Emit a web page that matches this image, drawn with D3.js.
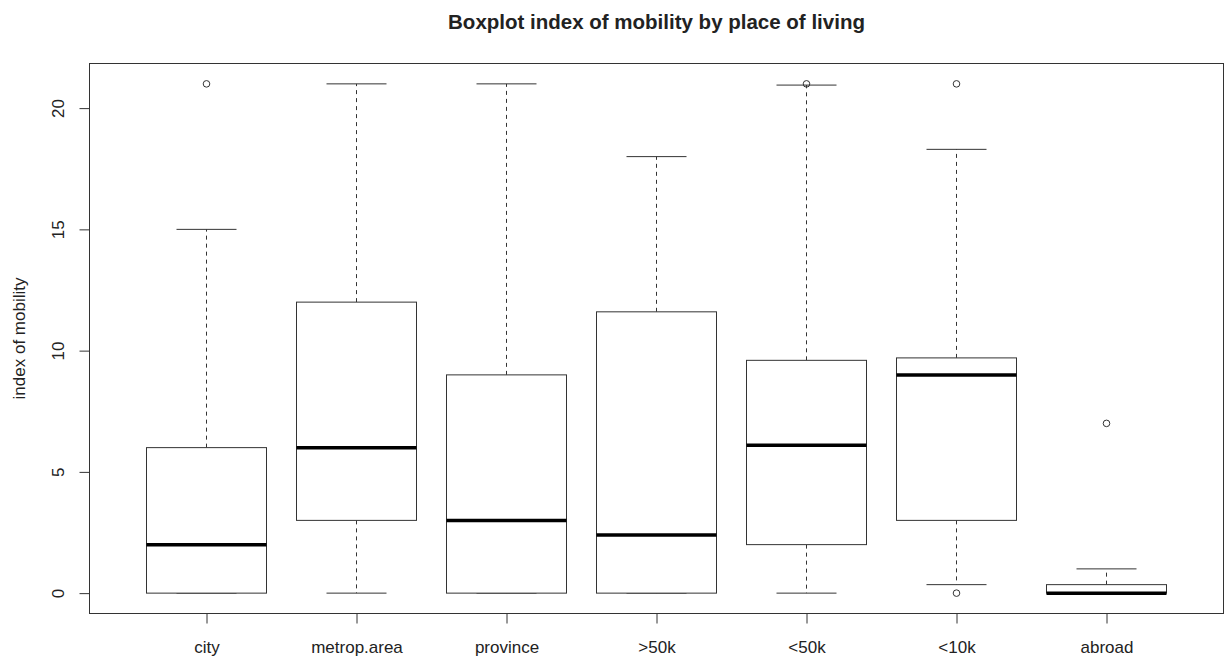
<!DOCTYPE html>
<html>
<head>
<meta charset="utf-8">
<script src="https://cdn.jsdelivr.net/npm/d3@7"></script>
<style>
  html, body { margin: 0; padding: 0; background: #fff; }
  svg { display: block; }
  text { font-family: "Liberation Sans", Arial, sans-serif; fill: #222; }
</style>
</head>
<body>
<svg id="chart" width="1230" height="657"></svg>
<script>
// Boxplot statistics for each place of living
const categories = ["city", "metrop.area", "province", ">50k", "<50k", "<10k", "abroad"];
const lowerWhisker = [0, 0, 0, 0, 0, 0.35, 0];
const q1 = [0, 3, 0, 0, 2, 3, 0];
const median = [2, 6, 3, 2.4, 6.1, 9, 0];
const q3 = [6, 12, 9, 11.6, 9.6, 9.7, 0.35];
const upperWhisker = [15, 21, 21, 18, 20.95, 18.3, 1];
const outliers = [[21], [], [], [], [21], [21, 0], [7]];
const yTicks = [0, 5, 10, 15, 20];

const titleText = "Boxplot index of mobility by place of living";
const yLabel = "index of mobility";

const svg = d3.select("#chart");
const plotLeft = 89.5, plotRight = 1223.5, plotTop = 63.5, plotBottom = 613.5;

const n = categories.length;
const x = d3.scaleLinear().domain([0.22, n + 0.78]).range([plotLeft, plotRight]);
const y = d3.scaleLinear().domain([-0.84, 21.84]).range([plotBottom, plotTop]);
const step = x(2) - x(1);
const boxW = step * 0.8;
const capW = boxW / 2;

const stroke = "#333";

const boxes = categories.map((c, i) => ({
  pos: i + 1, lo: lowerWhisker[i], q1: q1[i], med: median[i], q3: q3[i], hi: upperWhisker[i], out: outliers[i]
}));

const g = svg.append("g");

const bg = g.selectAll("g.box").data(boxes).join("g").attr("class", "box");

// whiskers (dashed)
bg.append("line")
  .attr("x1", d => x(d.pos)).attr("x2", d => x(d.pos))
  .attr("y1", d => y(d.q3)).attr("y2", d => y(d.hi))
  .attr("stroke", stroke).attr("stroke-dasharray", "4,4");
bg.append("line")
  .attr("x1", d => x(d.pos)).attr("x2", d => x(d.pos))
  .attr("y1", d => y(d.q1)).attr("y2", d => y(d.lo))
  .attr("stroke", stroke).attr("stroke-dasharray", "4,4");

// whisker caps
bg.append("line")
  .attr("x1", d => x(d.pos) - capW / 2).attr("x2", d => x(d.pos) + capW / 2)
  .attr("y1", d => y(d.hi)).attr("y2", d => y(d.hi))
  .attr("stroke", stroke);
bg.append("line")
  .attr("x1", d => x(d.pos) - capW / 2).attr("x2", d => x(d.pos) + capW / 2)
  .attr("y1", d => y(d.lo)).attr("y2", d => y(d.lo))
  .attr("stroke", stroke);

// boxes
bg.append("rect")
  .attr("x", d => x(d.pos) - boxW / 2)
  .attr("width", boxW)
  .attr("y", d => y(d.q3))
  .attr("height", d => y(d.q1) - y(d.q3))
  .attr("fill", "#fff").attr("stroke", stroke);

// medians
bg.append("line")
  .attr("x1", d => x(d.pos) - boxW / 2).attr("x2", d => x(d.pos) + boxW / 2)
  .attr("y1", d => y(d.med)).attr("y2", d => y(d.med))
  .attr("stroke", "#000").attr("stroke-width", 3.5);

// outliers
bg.selectAll("circle").data(d => d.out.map(v => ({ pos: d.pos, v })))
  .join("circle")
  .attr("cx", d => x(d.pos)).attr("cy", d => y(d.v))
  .attr("r", 3.3).attr("fill", "none").attr("stroke", stroke);

// frame
svg.append("rect")
  .attr("x", plotLeft).attr("y", plotTop)
  .attr("width", plotRight - plotLeft).attr("height", plotBottom - plotTop)
  .attr("fill", "none").attr("stroke", stroke);

// x axis
const xAxis = svg.append("g")
  .attr("transform", `translate(0,${plotBottom})`)
  .call(d3.axisBottom(x)
    .tickValues(d3.range(1, n + 1))
    .tickFormat(d => categories[d - 1])
    .tickSize(10).tickPadding(17));
xAxis.select(".domain").remove();
xAxis.selectAll("line").attr("stroke", stroke);
xAxis.selectAll("text").style("font-size", "17px").attr("fill", "#222");

// y axis
const yAxis = svg.append("g")
  .attr("transform", `translate(${plotLeft},0)`)
  .call(d3.axisLeft(y).tickValues(yTicks).tickSize(10));
yAxis.select(".domain").remove();
yAxis.selectAll("line").attr("stroke", stroke);
yAxis.selectAll("text")
  .attr("transform", "rotate(-90)")
  .attr("x", 0).attr("y", -31).attr("dy", "0.35em")
  .attr("text-anchor", "middle")
  .style("font-size", "17px").attr("fill", "#222");

// y axis title
svg.append("text")
  .attr("transform", `translate(19,${(plotTop + plotBottom) / 2}) rotate(-90)`)
  .attr("text-anchor", "middle").attr("dy", "0.35em")
  .style("font-size", "17px")
  .text(yLabel);

// chart title
svg.append("text")
  .attr("x", (plotLeft + plotRight) / 2).attr("y", 28.5)
  .attr("text-anchor", "middle")
  .style("font-size", "20.5px").style("font-weight", "bold")
  .attr("fill", "#111")
  .text(titleText);
</script>
</body>
</html>
